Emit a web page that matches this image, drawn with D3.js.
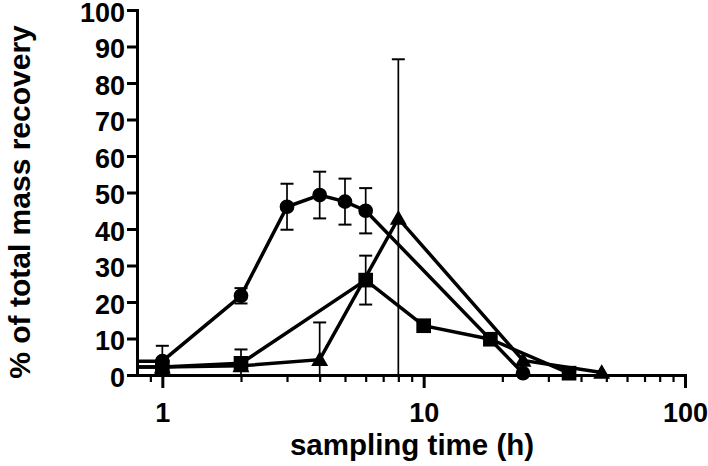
<!DOCTYPE html>
<html>
<head>
<meta charset="utf-8">
<script src="https://cdn.jsdelivr.net/npm/d3@7"></script>
<style>
  html, body { margin: 0; padding: 0; background: #fff; }
  svg { display: block; }
  text { font-family: "Liberation Sans", Arial, sans-serif; font-weight: bold; fill: #000; }
</style>
</head>
<body>
<svg id="chart" width="708" height="466"></svg>
<script>
// ---- data ----
const circleTime = [1, 2, 3, 4, 5, 6, 24];
const circleValue = [3.8, 21.7, 46.1, 49.3, 47.5, 45.0, 0.5];
const circleError = [4.2, 2.1, 6.3, 6.4, 6.3, 6.2, 0];

const squareTime = [1, 2, 6, 10, 18, 36];
const squareValue = [2.2, 3.2, 26.0, 13.5, 9.8, 0.5];
const squareError = [0, 3.8, 6.7, 0, 0, 0];

const triangleTime = [1, 2, 4, 8, 24, 48];
const triangleValue = [2.2, 2.5, 4.2, 42.9, 4.0, 0.7];
const triangleError = [0, 0, 10.2, 43.6, 0, 0];

const xMajorTicks = [1, 10, 100];
const xMinorTicks = [0.9, 2, 3, 4, 5, 6, 7, 8, 9, 20, 30, 40, 50, 60, 70, 80, 90];
const yTicks = [0, 10, 20, 30, 40, 50, 60, 70, 80, 90, 100];
const xTitle = "sampling time (h)";
const yTitle = "% of total mass recovery";

// ---- layout ----
const svg = d3.select("#chart");
const x = d3.scaleLog().domain([0.8, 100]).range([137, 685]);
const y = d3.scaleLinear().domain([0, 100]).range([375, 10]);

const series = [
  { t: circleTime, v: circleValue, e: circleError, shape: "circle" },
  { t: squareTime, v: squareValue, e: squareError, shape: "square" },
  { t: triangleTime, v: triangleValue, e: triangleError, shape: "triangle" }
];

svg.append("defs").append("clipPath").attr("id", "plotclip")
  .append("rect").attr("x", x.range()[0]).attr("y", 0)
  .attr("width", x.range()[1] - x.range()[0] + 20).attr("height", y(0) + 12);

const plot = svg.append("g").attr("clip-path", "url(#plotclip)");

const line = d3.line().x(d => x(d[0])).y(d => y(d[1]));

// connecting lines (with baseline extension from the axis to the first point)
series.forEach(s => {
  const pts = s.t.map((t, i) => [t, s.v[i]]);
  const ext = [[x.domain()[0], s.v[0]]].concat(pts);
  plot.append("path").attr("d", line(ext))
    .attr("fill", "none").attr("stroke", "#000").attr("stroke-width", 3.5)
    .attr("stroke-linejoin", "miter");
});

// error bars
series.forEach(s => {
  s.t.forEach((t, i) => {
    if (!s.e[i]) return;
    const top = s.v[i] + s.e[i];
    const bot = Math.max(0, s.v[i] - s.e[i]);
    const cx = x(t);
    plot.append("line").attr("x1", cx).attr("x2", cx)
      .attr("y1", y(top)).attr("y2", y(bot))
      .attr("stroke", "#000").attr("stroke-width", 1.7);
    plot.append("line").attr("x1", cx - 6.5).attr("x2", cx + 6.5)
      .attr("y1", y(top)).attr("y2", y(top))
      .attr("stroke", "#000").attr("stroke-width", 2);
    if (s.v[i] - s.e[i] > 0) {
      plot.append("line").attr("x1", cx - 6.5).attr("x2", cx + 6.5)
        .attr("y1", y(bot)).attr("y2", y(bot))
        .attr("stroke", "#000").attr("stroke-width", 2);
    }
  });
});

// markers
const symSize = { circle: 170, square: 215, triangle: 125 };
const symType = { circle: d3.symbolCircle, square: d3.symbolSquare, triangle: d3.symbolTriangle };
series.forEach(s => {
  const sym = d3.symbol().type(symType[s.shape]).size(symSize[s.shape]);
  s.t.forEach((t, i) => {
    const dy = s.shape === "triangle" ? 1.5 : 0;
    plot.append("path").attr("d", sym())
      .attr("transform", `translate(${x(t)},${y(s.v[i]) + dy})`)
      .attr("fill", "#000");
  });
});

// ---- axes ----
const yAxis = svg.append("g").attr("transform", `translate(${x.range()[0]},0)`)
  .call(d3.axisLeft(y).tickValues(yTicks).tickSize(10).tickPadding(2).tickSizeOuter(0));
yAxis.select(".domain").attr("stroke-width", 3).attr("stroke-linecap", "square");
yAxis.selectAll(".tick line").attr("stroke-width", 3);
yAxis.selectAll(".tick text").style("font-size", "27px").attr("dy", "0.41em");

const xMinor = svg.append("g").attr("transform", `translate(0,${y(0)})`)
  .call(d3.axisBottom(x).tickValues(xMinorTicks).tickSize(7).tickFormat("").tickSizeOuter(0));
xMinor.select(".domain").remove();
xMinor.selectAll(".tick line").attr("stroke-width", 2.2);

const xAxis = svg.append("g").attr("transform", `translate(0,${y(0)})`)
  .call(d3.axisBottom(x).tickValues(xMajorTicks).tickSize(13).tickPadding(15)
    .tickFormat(d3.format("d")).tickSizeOuter(0));
xAxis.select(".domain").attr("stroke-width", 3).attr("stroke-linecap", "square");
xAxis.selectAll(".tick line").attr("stroke-width", 3);
xAxis.selectAll(".tick text").style("font-size", "27px");

svg.selectAll(".domain, .tick line").attr("stroke", "#000");

// titles
svg.append("text").attr("x", 412).attr("y", 455).attr("text-anchor", "middle")
  .style("font-size", "29.5px").text(xTitle);
svg.append("text").attr("transform", "translate(30,202) rotate(-90)")
  .attr("text-anchor", "middle").style("font-size", "30px").text(yTitle);
</script>
</body>
</html>
